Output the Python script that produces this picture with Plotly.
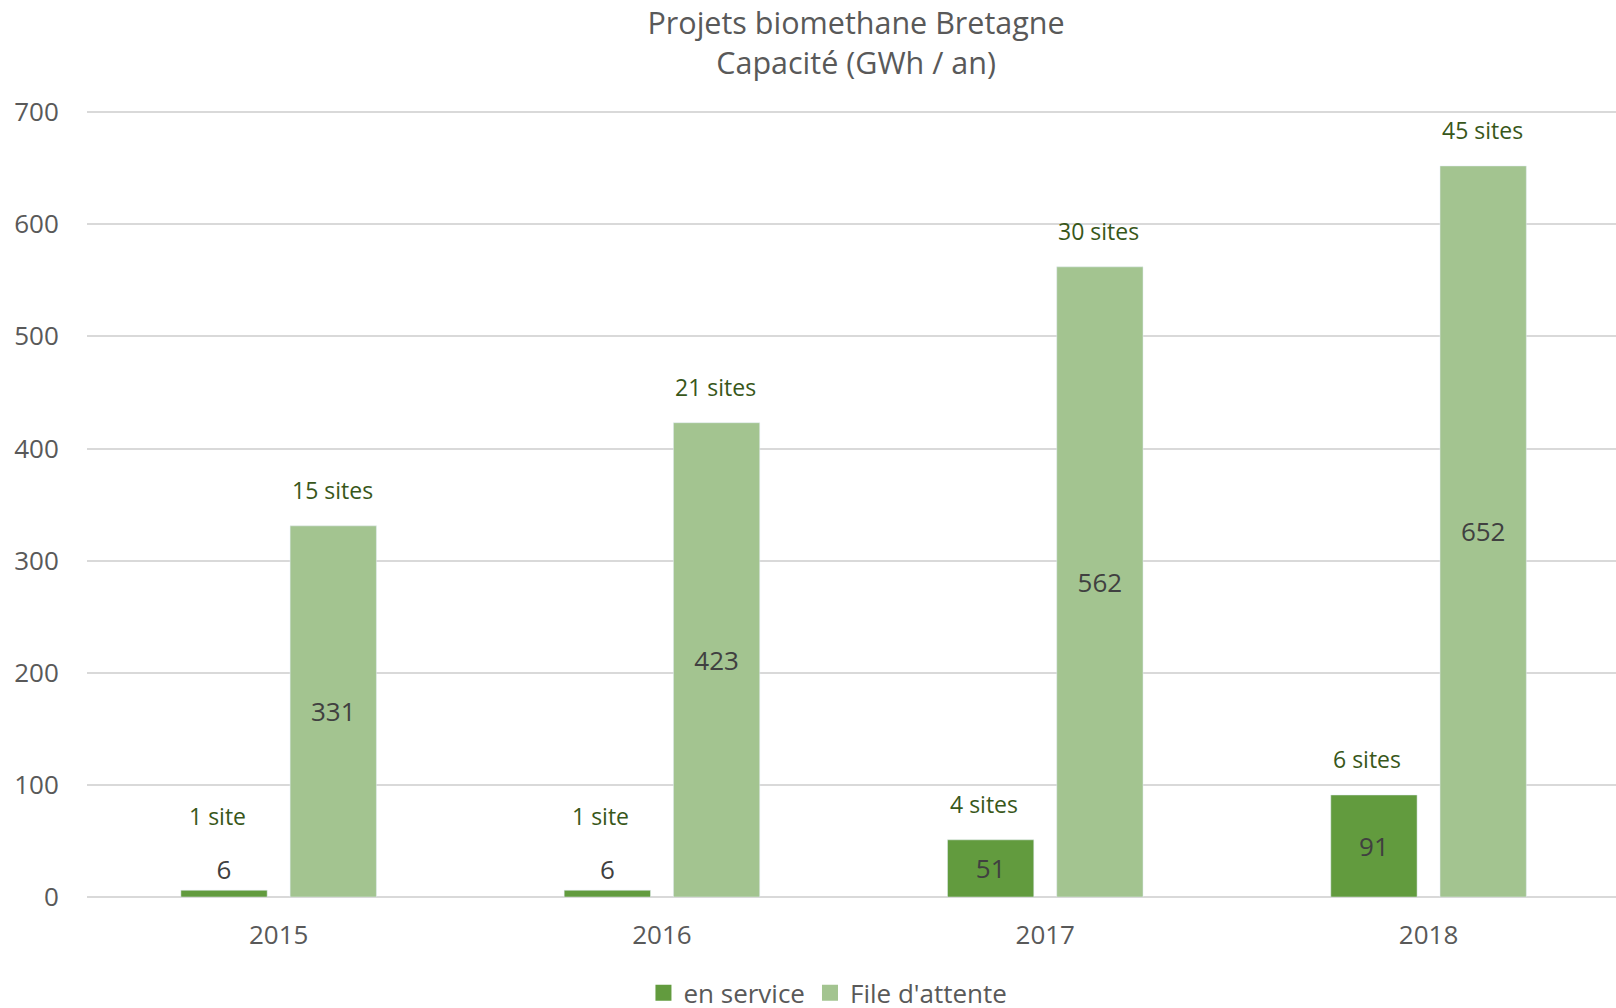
import plotly.graph_objects as go

years = ["2015", "2016", "2017", "2018"]
en_service = [6, 6, 51, 91]
file_attente = [331, 423, 562, 652]
sites_service = ["1 site", "1 site", "4 sites", "6 sites"]
sites_attente = ["15 sites", "21 sites", "30 sites", "45 sites"]
series_names = ["en service", "File d'attente"]

C_DARK = "#629b3e"
C_LIGHT = "#a3c490"
FONT = "Open Sans"

fig = go.Figure()
fig.add_trace(go.Bar(
    x=years, y=en_service, name=series_names[0], marker_color=C_DARK,
    text=[str(v) for v in en_service], textposition="auto",
    insidetextanchor="middle", showlegend=False,
    textfont=dict(family=FONT, size=26, color="#404040"),
))
fig.add_trace(go.Bar(
    x=years, y=file_attente, name=series_names[1], marker_color=C_LIGHT,
    text=[str(v) for v in file_attente], textposition="inside",
    insidetextanchor="middle", showlegend=False,
    textfont=dict(family=FONT, size=26, color="#404040"),
))
# legend entries with larger square swatches
for name, col in zip(series_names, [C_DARK, C_LIGHT]):
    fig.add_trace(go.Scatter(
        x=[None], y=[None], mode="markers", name=name,
        marker=dict(symbol="square", size=17, color=col),
    ))

slot = 109  # px offset of each bar from the category centre
annotations = []
for i, yr in enumerate(years):
    v = en_service[i]
    annotations.append(dict(
        x=i, y=v, xref="x", yref="y", text=sites_service[i], showarrow=False,
        xshift=-slot / 2 - 7, yshift=(74 if v < 20 else 36), yanchor="middle",
        font=dict(family=FONT, size=23, color="#38571a"),
    ))
    v2 = file_attente[i]
    annotations.append(dict(
        x=i, y=v2, xref="x", yref="y", text=sites_attente[i], showarrow=False,
        xshift=slot / 2 - 1, yshift=36, yanchor="middle",
        font=dict(family=FONT, size=23, color="#38571a"),
    ))

fig.update_layout(
    width=1616, height=1008,
    paper_bgcolor="white", plot_bgcolor="white",
    margin=dict(l=87, r=0, t=111, b=111, autoexpand=False),
    barmode="group", bargap=0.43, bargroupgap=0.21,
    font=dict(family=FONT, color="#595959"),
    title=dict(
        text="Projets biomethane Bretagne<br>Capacité (GWh / an)",
        x=0.503, xref="paper", xanchor="center",
        y=0.966, yref="container", yanchor="top",
        font=dict(family=FONT, size=30.5, color="#595959"),
    ),
    showlegend=True,
    legend=dict(
        orientation="h", x=0.4846, xanchor="center", xref="paper",
        y=-0.122, yanchor="middle",
        font=dict(family=FONT, size=26, color="#595959"),
        traceorder="normal",
    ),
    annotations=annotations,
    xaxis=dict(
        type="category", range=[-0.5, 3.489], automargin=False,
        showgrid=False, showline=False,
        ticks="outside", ticklen=15, tickcolor="rgba(0,0,0,0)",
        tickfont=dict(family=FONT, size=26, color="#595959"),
    ),
    yaxis=dict(
        range=[0, 701], tickvals=[0, 100, 200, 300, 400, 500, 600, 700],
        automargin=False,
        showgrid=True, gridcolor="#d9d9d9",
        gridwidth=1.5, zeroline=True, zerolinecolor="#d9d9d9", zerolinewidth=1.5,
        showline=False,
        ticks="outside", ticklen=22, tickcolor="rgba(0,0,0,0)",
        tickfont=dict(family=FONT, size=26, color="#595959"),
    ),
)

fig.write_html(
    "out.html",
    config={"displayModeBar": False},
    post_script="document.body.style.margin='0';document.body.style.overflow='hidden';",
)
